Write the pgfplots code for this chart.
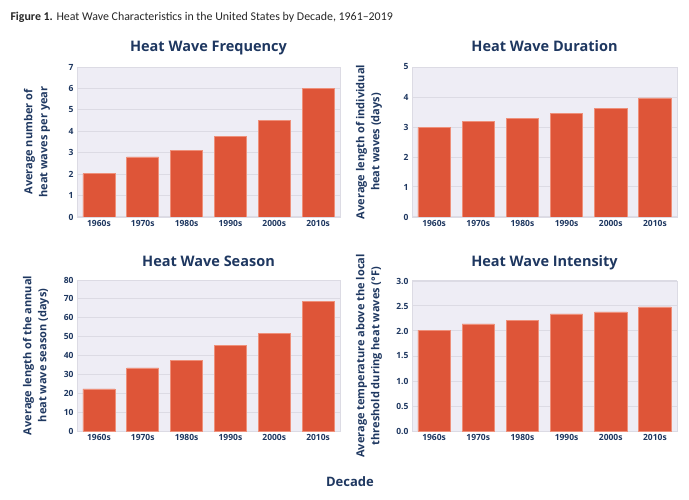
\documentclass[border=0pt]{standalone}
\usepackage{fontspec}
\setmainfont{Open Sans}
\newfontfamily\capfont[Ligatures=TeX]{Carlito}
\usepackage{pgfplots}
\pgfplotsset{compat=1.18}

\definecolor{navy}{HTML}{1E3760}
\definecolor{barc}{HTML}{DE5538}
\definecolor{bare}{HTML}{EE907A}
\definecolor{bgc}{HTML}{EEEDF5}
\definecolor{gridc}{HTML}{DCDBE4}

\pgfplotsset{
  panel/.style={
    scale only axis, ybar, bar width=0.73,
    xmin=-0.5, xmax=5.5, ymin=0,
    xtick={0,...,5},
    xticklabels={1960s,1970s,1980s,1990s,2000s,2010s},
    axis background/.style={fill=bgc},
    axis line style={draw=gridc, line width=0.8pt},
    ymajorgrids, grid style={draw=gridc, line width=1pt},
    major tick length=0pt,
    tick label style={font=\fontsize{8.5}{9}\selectfont\bfseries, text=navy},
    title style={font=\fontsize{14.5}{16}\selectfont\bfseries, text=navy, anchor=base},
    ylabel style={font=\fontsize{11}{15}\selectfont\bfseries, text=navy, align=center, anchor=center},
    /pgf/number format/assume math mode=true,
  },
  bars/.style={fill=barc, draw=bare, line width=0.7pt},
}

\begin{document}
\begin{tikzpicture}
\useasboundingbox (0,0) rectangle (689pt,499pt);

% caption
\node[anchor=base west, text=black!85, font=\capfont\fontsize{11.9}{14}\selectfont] at (7pt,478pt)
  {\textbf{Figure 1.} Heat Wave Characteristics in the United States by Decade, 1961--2019};

% frequency
\begin{axis}[panel, at={(77pt,282pt)}, anchor=south west, width=263pt, height=150pt,
  ymax=7, ytick={0,...,7},
  title={Heat Wave Frequency}, title style={at={(0.5,1)}, yshift=10pt},
  ylabel={Average number of\\heat waves per year},
  ylabel style={at={(axis description cs:-0.152,0.5)}}]
\addplot[bars] coordinates {(0,2.02) (1,2.80) (2,3.11) (3,3.78) (4,4.49) (5,6.02)};
\end{axis}

% duration
\begin{axis}[panel, at={(412pt,282pt)}, anchor=south west, width=265pt, height=150pt,
  ymax=5, ytick={0,...,5},
  title={Heat Wave Duration}, title style={at={(0.5,1)}, yshift=10pt},
  ylabel={Average length of individual\\heat waves (days)},
  ylabel style={at={(axis description cs:-0.162,0.5)}}]
\addplot[bars] coordinates {(0,2.98) (1,3.19) (2,3.28) (3,3.46) (4,3.62) (5,3.97)};
\end{axis}

% season
\begin{axis}[panel, at={(77pt,68pt)}, anchor=south west, width=263pt, height=151pt,
  ymax=80, ytick={0,10,...,80},
  title={Heat Wave Season}, title style={at={(0.5,1)}, yshift=8pt},
  ylabel={Average length of the annual\\heat wave season (days)},
  ylabel style={at={(axis description cs:-0.156,0.5)}}]
\addplot[bars] coordinates {(0,22.3) (1,33.4) (2,37.6) (3,45.2) (4,51.6) (5,68.7)};
\end{axis}

% intensity
\begin{axis}[panel, at={(412pt,68pt)}, anchor=south west, width=265pt, height=150pt,
  ymax=3, ytick={0,0.5,...,3},
  yticklabel style={/pgf/number format/.cd, fixed, fixed zerofill, precision=1},
  title={Heat Wave Intensity}, title style={at={(0.5,1)}, yshift=8pt},
  ylabel={Average temperature above the local\\threshold during heat waves (°F)},
  ylabel style={at={(axis description cs:-0.162,0.5)}}]
\addplot[bars] coordinates {(0,2.01) (1,2.14) (2,2.21) (3,2.34) (4,2.38) (5,2.48)};
\end{axis}

\node[anchor=base, text=navy, font=\fontsize{13}{15}\selectfont\bfseries] at (350pt,13pt) {Decade};
\end{tikzpicture}
\end{document}
